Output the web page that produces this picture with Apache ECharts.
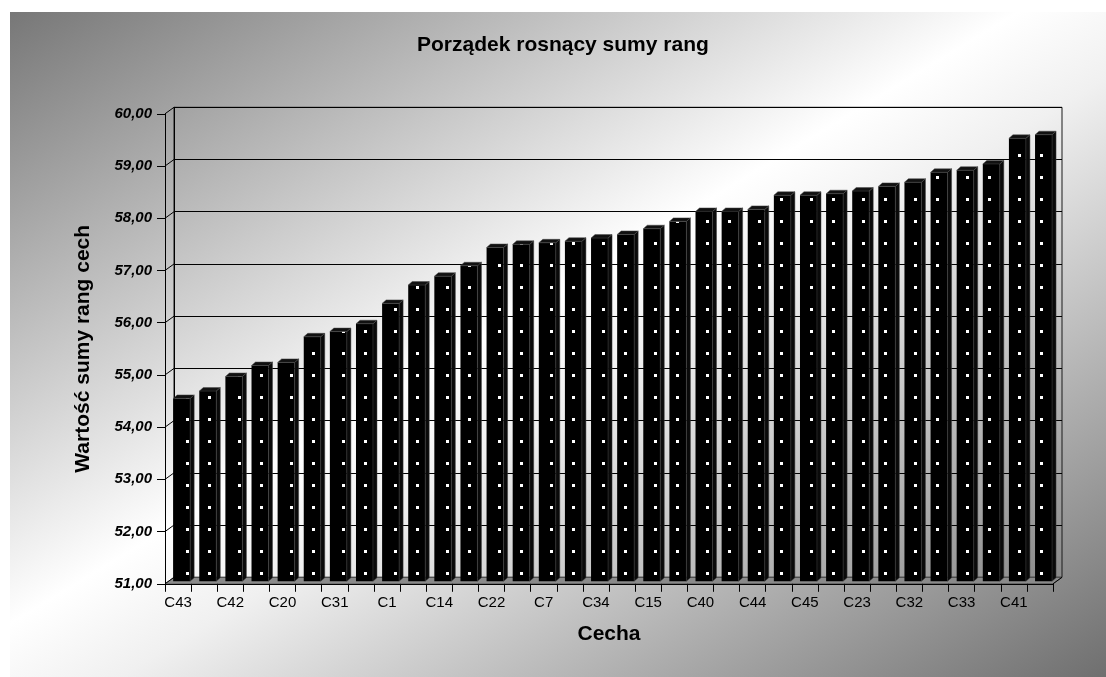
<!DOCTYPE html>
<html>
<head>
<meta charset="utf-8">
<script src="https://cdn.jsdelivr.net/npm/echarts@6/dist/echarts.min.js"></script>
<style>
  html, body { margin: 0; padding: 0; background: #ffffff; }
  #bg {
    position: absolute; left: 10px; top: 12px; width: 1096px; height: 665px;
    background: linear-gradient(to bottom right, #777777 0%, #ffffff 46%, #f0f0f0 55%, #6f6f6f 100%);
  }
  #chart { position: absolute; left: 0; top: 0; width: 1106px; height: 677px; }
</style>
</head>
<body>
<div id="bg"></div>
<div id="chart"></div>
<script>
// Features sorted by rank sum (ascending)
const categories = [
  'C43', 'C9', 'C42', 'C27', 'C20', 'C5', 'C31', 'C18', 'C1', 'C36',
  'C14', 'C3', 'C22', 'C11', 'C7', 'C29', 'C34', 'C25', 'C15', 'C38',
  'C40', 'C2', 'C44', 'C17', 'C45', 'C12', 'C23', 'C6', 'C32', 'C39',
  'C33', 'C28', 'C41', 'C10'
];
const values = [
  54.50, 54.64, 54.92, 55.13, 55.19, 55.68, 55.78, 55.93, 56.32, 56.67,
  56.84, 57.04, 57.39, 57.45, 57.48, 57.51, 57.57, 57.64, 57.75, 57.89,
  58.08, 58.08, 58.12, 58.39, 58.39, 58.42, 58.47, 58.56, 58.64, 58.83,
  58.87, 58.99, 59.48, 59.55
];
const yMin = 51;
const yMax = 60;
const yStep = 1;

const titleText = 'Porządek rosnący sumy rang';
const xName = 'Cecha';
const yName = 'Wartość sumy rang cech';

// 3D box geometry: front plane, depth offset of the back wall, bar plane in between
const FRONT = { left: 165, top: 113.8, width: 888, height: 470 };
const DEPTH = { dx: 9, dy: 6.5 };
const BAR_PLANE = 0.4;
const BAR_WIDTH = 17;
const BAR_FACE = { dx: 4, dy: 3.5 };
const FONT = "'Liberation Sans', Arial, sans-serif";

function planeGrid(f) {
  return {
    left: FRONT.left + DEPTH.dx * f,
    top: FRONT.top - DEPTH.dy * f,
    width: FRONT.width,
    height: FRONT.height
  };
}

const fmt = v => v.toFixed(2).replace('.', ',');

const chart = echarts.init(document.getElementById('chart'), null, { renderer: 'canvas' });

const option = {
  animation: false,
  backgroundColor: 'transparent',
  title: {
    text: titleText,
    left: 417,
    top: 35,
    padding: 0,
    textStyle: { fontFamily: FONT, fontSize: 21, fontWeight: 'bold', color: '#000' }
  },
  grid: [
    Object.assign(planeGrid(1), { show: true, borderColor: '#1a1a1a', borderWidth: 1, backgroundColor: 'transparent' }),
    planeGrid(0),
    planeGrid(BAR_PLANE)
  ],
  xAxis: [
    { gridIndex: 0, type: 'category', data: categories, show: false },
    {
      gridIndex: 1, type: 'category', data: categories, z: 6,
      axisLine: { lineStyle: { color: '#000', width: 1 } },
      axisTick: { show: true, interval: 0, length: 8, lineStyle: { color: '#000' } },
      axisLabel: { interval: 1, margin: 12, color: '#000', fontFamily: FONT, fontSize: 15 },
      name: xName, nameLocation: 'middle', nameGap: 40,
      nameTextStyle: { fontFamily: FONT, fontSize: 21, fontWeight: 'bold', color: '#000' }
    },
    { gridIndex: 2, type: 'category', data: categories, show: false }
  ],
  yAxis: [
    {
      gridIndex: 0, type: 'value', min: yMin, max: yMax, interval: yStep,
      axisLine: { show: true, lineStyle: { color: '#000' } },
      axisTick: { show: false }, axisLabel: { show: false },
      splitLine: { show: true, lineStyle: { color: '#000', width: 1 } }
    },
    {
      gridIndex: 1, type: 'value', min: yMin, max: yMax, interval: yStep, z: 6,
      axisLine: { show: true, lineStyle: { color: '#000' } },
      axisTick: { show: true, length: 8, lineStyle: { color: '#000' } },
      splitLine: { show: false },
      axisLabel: {
        margin: 13, color: '#000', fontFamily: FONT, fontSize: 15,
        fontWeight: 'bold', fontStyle: 'italic', formatter: fmt
      },
      name: yName, nameLocation: 'middle', nameGap: 71,
      nameTextStyle: { fontFamily: FONT, fontSize: 21, fontWeight: 'bold', color: '#000' }
    },
    { gridIndex: 2, type: 'value', min: yMin, max: yMax, interval: yStep, show: false }
  ],
  series: [
    {
      type: 'bar', xAxisIndex: 2, yAxisIndex: 2, z: 3,
      data: values, barWidth: BAR_WIDTH,
      itemStyle: {
        color: '#000',
        decal: {
          symbol: 'rect', symbolSize: 1, color: '#ffffff', backgroundColor: null,
          dashArrayX: [3, 27, 3, 19], dashArrayY: [3, 18.2], rotation: 0
        }
      }
    },
    {
      // top and side faces of the 3D columns
      type: 'custom', xAxisIndex: 2, yAxisIndex: 2, z: 4,
      data: values.map((v, i) => [i, v]),
      encode: { x: 0, y: 1 },
      renderItem: function (params, api) {
        const top = api.coord([api.value(0), api.value(1)]);
        const base = api.coord([api.value(0), yMin]);
        const x0 = top[0] - BAR_WIDTH / 2, x1 = top[0] + BAR_WIDTH / 2;
        const yt = top[1], yb = base[1];
        const dx = BAR_FACE.dx, dy = BAR_FACE.dy;
        return {
          type: 'group',
          children: [
            {
              type: 'polygon',
              shape: { points: [[x1, yt], [x1 + dx, yt - dy], [x1 + dx, yb - dy], [x1, yb]] },
              style: { fill: '#0a0a0a', stroke: '#404040', lineWidth: 0.5 }
            },
            {
              type: 'polygon',
              shape: { points: [[x0, yt], [x0 + dx, yt - dy], [x1 + dx, yt - dy], [x1, yt]] },
              style: { fill: '#111', stroke: '#4a4a4a', lineWidth: 0.5 }
            }
          ]
        };
      }
    }
  ]
};

chart.setOption(option);

// Floor and the diagonal edges joining the front axes to the back wall
const ticks = [];
for (let v = yMin; v <= yMax + 1e-9; v += yStep) ticks.push(+v.toFixed(6));

const gFront = planeGrid(0), gBack = planeGrid(1);
const frontLeft = gFront.left, frontRight = gFront.left + gFront.width;
const backLeft = gBack.left, backRight = gBack.left + gBack.width;
const frontBase = chart.convertToPixel({ yAxisIndex: 1 }, yMin);
const backBase = chart.convertToPixel({ yAxisIndex: 0 }, yMin);

const graphics = [
  {
    type: 'polygon', z: 1, silent: true,
    shape: { points: [[frontLeft, frontBase], [frontRight, frontBase], [backRight, backBase], [backLeft, backBase]] },
    style: { fill: '#8a8a8a', stroke: '#333', lineWidth: 0.6 }
  },
  {
    type: 'line', z: 7, silent: true,
    shape: { x1: frontRight, y1: frontBase, x2: backRight, y2: backBase },
    style: { stroke: '#000', lineWidth: 1 }
  }
];
ticks.forEach(v => {
  const yf = chart.convertToPixel({ yAxisIndex: 1 }, v);
  const yb = chart.convertToPixel({ yAxisIndex: 0 }, v);
  graphics.push({
    type: 'line', z: 7, silent: true,
    shape: { x1: frontLeft, y1: yf, x2: backLeft, y2: yb },
    style: { stroke: '#000', lineWidth: 1 }
  });
});
chart.setOption({ graphic: graphics });
</script>
</body>
</html>
